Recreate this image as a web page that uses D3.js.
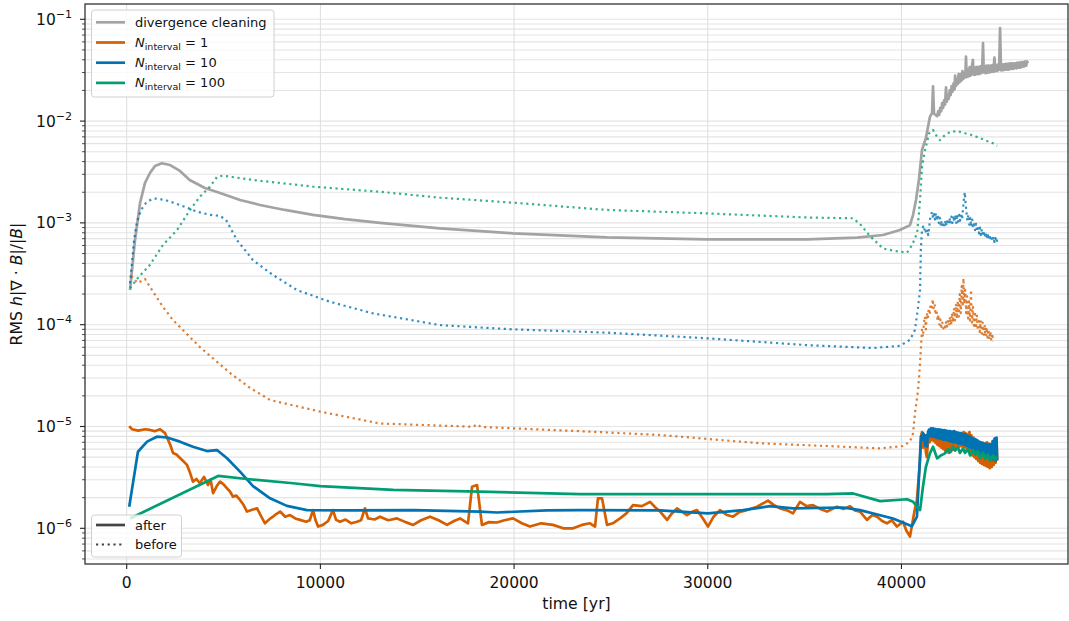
<!DOCTYPE html>
<html>
<head>
<meta charset="utf-8">
<script src="https://cdn.jsdelivr.net/npm/d3@7"></script>
<style>
  body { margin: 0; background: #fff; }
  svg { font-family: "DejaVu Sans", sans-serif; }
</style>
</head>
<body>
<svg id="chart" width="1069" height="621"></svg>
<script>
// [time in yr, RMS h|div B|/|B|]
const cleaning = [
  [170,2.19e-4],[430,6.8e-4],[690,1.57e-3],[945,2.47e-3],[1200,3.09e-3],[1460,3.62e-3],[1810,3.85e-3],
  [2240,3.7e-3],[2750,3.24e-3],[3250,2.64e-3],[4040,2.2e-3],[4820,1.97e-3],[5850,1.68e-3],[6880,1.5e-3],
  [8170,1.34e-3],[9620,1.2e-3],[11270,1.09e-3],[13080,1.0e-3],[16170,8.85e-4],[19940,7.9e-4],[24800,7.2e-4],
  [29960,6.9e-4],[35120,6.9e-4],[37700,7.16e-4],[39050,7.6e-4],[39920,8.5e-4],[40440,9.5e-4],[40600,1.2e-3],
  [40750,1.68e-3],[40900,2.64e-3],[41060,5.2e-3],[41260,6.8e-3],[41470,1.1e-2],[41580,1.2e-2],[41630,2.2e-2],
  [41680,1.18e-2],[41840,1.12e-2],[41900,1.25e-2],[41950,1.15e-2],[42000,1.35e-2],[42050,1.25e-2],[42100,1.5e-2],
  [42150,1.35e-2],[42200,1.6e-2],[42250,1.45e-2],[42300,2.15e-2],[42340,1.55e-2],[42390,1.8e-2],[42440,1.65e-2],
  [42490,2.0e-2],[42540,1.8e-2],[42590,2.2e-2],[42640,1.95e-2],[42690,2.35e-2],[42740,2.05e-2],[42770,2.8e-2],
  [42800,2.2e-2],[42850,2.6e-2],[42900,2.3e-2],[42950,2.9e-2],[43000,2.4e-2],[43050,2.9e-2],[43100,2.5e-2],
  [43150,3.1e-2],[43200,2.6e-2],[43250,3.0e-2],[43300,2.7e-2],[43330,4.3e-2],[43370,2.7e-2],[43420,3.2e-2],
  [43470,2.75e-2],[43520,3.4e-2],[43570,2.8e-2],[43620,3.3e-2],[43690,4.0e-2],[43720,2.85e-2],[43770,3.35e-2],
  [43820,2.85e-2],[43870,3.4e-2],[43920,2.9e-2],[43970,3.4e-2],[44020,2.9e-2],[44070,3.45e-2],[44120,2.95e-2],
  [44170,3.4e-2],[44210,5.85e-2],[44250,3.0e-2],[44300,3.45e-2],[44350,2.95e-2],[44400,3.5e-2],[44450,3.0e-2],
  [44500,3.5e-2],[44550,3.0e-2],[44600,3.5e-2],[44650,3.05e-2],[44700,3.55e-2],[44750,3.05e-2],[44800,4.2e-2],
  [44850,3.1e-2],[44900,3.55e-2],[44950,3.1e-2],[45000,3.6e-2],[45040,3.2e-2],[45090,8.2e-2],[45140,3.15e-2],
  [45190,3.6e-2],[45240,3.15e-2],[45290,3.6e-2],[45340,3.2e-2],[45390,3.65e-2],[45440,3.2e-2],[45490,3.65e-2],
  [45540,3.2e-2],[45590,3.7e-2],[45640,3.25e-2],[45690,3.7e-2],[45740,3.25e-2],[45790,3.7e-2],[45840,3.3e-2],
  [45890,3.7e-2],[45940,3.3e-2],[45990,3.75e-2],[46040,3.35e-2],[46090,3.75e-2],[46140,3.35e-2],[46190,3.8e-2],
  [46240,3.4e-2],[46290,3.8e-2],[46340,3.45e-2],[46390,3.85e-2],[46440,3.5e-2],[46490,3.85e-2],[46530,3.7e-2]
];

const n1After = [
  [130,1.01e-5],[270,9.4e-6],[600,9.1e-6],[945,9.4e-6],[1200,9.25e-6],[1450,9.0e-6],[1720,9.4e-6],[1980,8.6e-6],
  [2130,7.4e-6],[2250,6.6e-6],[2390,5.5e-6],[2570,5.3e-6],[2750,4.9e-6],[2900,4.6e-6],[3110,4.2e-6],[3250,3.6e-6],
  [3420,2.87e-6],[3600,3.05e-6],[3780,2.77e-6],[3990,3.2e-6],[4200,2.66e-6],[4330,3.0e-6],[4460,2.21e-6],
  [4650,2.6e-6],[4820,2.87e-6],[5000,2.7e-6],[5180,2.47e-6],[5330,2.3e-6],[5490,2.04e-6],[5650,2.1e-6],[5850,1.9e-6],
  [6030,1.7e-6],[6210,1.46e-6],[6480,1.52e-6],[6730,1.57e-6],[6950,1.3e-6],[7140,1.12e-6],[7350,1.22e-6],[7550,1.3e-6],
  [7720,1.38e-6],[7920,1.46e-6],[8180,1.3e-6],[8430,1.35e-6],[8700,1.25e-6],[8950,1.21e-6],[9260,1.16e-6],[9450,1.2e-6],
  [9620,1.51e-6],[9750,1.2e-6],[9880,1.04e-6],[10130,1.08e-6],[10400,1.18e-6],[10650,1.51e-6],[10810,1.21e-6],
  [11010,1.16e-6],[11300,1.22e-6],[11600,1.12e-6],[11890,1.16e-6],[12100,1.2e-6],[12300,1.57e-6],[12460,1.25e-6],
  [12800,1.22e-6],[13080,1.3e-6],[13500,1.2e-6],[13960,1.25e-6],[14400,1.15e-6],[14790,1.08e-6],[15200,1.2e-6],
  [15660,1.3e-6],[16100,1.2e-6],[16540,1.08e-6],[16900,1.18e-6],[17210,1.25e-6],[17620,1.12e-6],[17830,2.56e-6],
  [18090,2.66e-6],[18340,1.08e-6],[18700,1.15e-6],[19120,1.14e-6],[19500,1.2e-6],[19950,1.25e-6],[20400,1.12e-6],
  [20820,1.04e-6],[21400,1.12e-6],[22010,1.08e-6],[22530,1.0e-6],[23050,1.0e-6],[23500,1.08e-6],[23920,1.12e-6],
  [24180,1.04e-6],[24330,1.97e-6],[24540,1.97e-6],[24800,1.08e-6],[25100,1.12e-6],[25470,1.25e-6],[25800,1.4e-6],
  [26140,1.69e-6],[26600,1.65e-6],[27020,1.82e-6],[27300,1.6e-6],[27540,1.46e-6],[27900,1.21e-6],[28150,1.4e-6],
  [28410,1.57e-6],[28930,1.35e-6],[29200,1.45e-6],[29440,1.51e-6],[29750,1.25e-6],[30010,1.04e-6],[30300,1.3e-6],
  [30630,1.51e-6],[31000,1.35e-6],[31300,1.3e-6],[31650,1.45e-6],[32020,1.51e-6],[32540,1.63e-6],[33110,1.87e-6],
  [33400,1.7e-6],[33730,1.57e-6],[34100,1.5e-6],[34400,1.4e-6],[34760,1.82e-6],[35100,1.65e-6],[35430,1.69e-6],
  [35800,1.55e-6],[36160,1.46e-6],[36670,1.63e-6],[37000,1.55e-6],[37340,1.65e-6],[37600,1.5e-6],[37860,1.46e-6],
  [38220,1.21e-6],[38500,1.35e-6],[38740,1.3e-6],[39000,1.18e-6],[39250,1.12e-6],[39500,1.2e-6],[39770,1.04e-6],
  [40080,1.16e-6],[40250,9.5e-7],[40440,8.3e-7],[40700,1.57e-6],[40800,1.9e-6],[40960,4.7e-6],[41010,8.0e-6],
  [41060,8.8e-6],[41110,6.2e-6],[41160,8.4e-6],[41210,7.5e-6],[41260,5.6e-6],[41310,5.0e-6],[41360,6.8e-6],
  [41410,8.6e-6],[41460,7.0e-6],[41510,9.0e-6],[41560,7.4e-6],[41610,9.0e-6],[41660,7.2e-6],[41710,8.8e-6],
  [41760,6.9e-6],[41810,8.6e-6],[41860,6.6e-6],[41910,8.4e-6],[41960,6.4e-6],[42010,8.0e-6],[42060,6.2e-6],
  [42110,7.8e-6],[42160,6.0e-6],[42210,7.6e-6],[42260,5.8e-6],[42310,7.4e-6],[42360,5.6e-6],[42410,7.2e-6],
  [42460,5.5e-6],[42510,7.4e-6],[42560,5.7e-6],[42610,7.6e-6],[42660,5.9e-6],[42710,7.8e-6],[42760,6.0e-6],
  [42810,8.0e-6],[42860,6.2e-6],[42910,8.2e-6],[42960,6.3e-6],[43010,8.4e-6],[43060,6.4e-6],[43110,8.6e-6],
  [43160,6.4e-6],[43210,8.8e-6],[43260,6.3e-6],[43310,8.6e-6],[43360,6.0e-6],[43410,8.4e-6],[43460,5.7e-6],
  [43510,8.8e-6],[43560,5.4e-6],[43610,8.2e-6],[43660,5.2e-6],[43710,7.8e-6],[43760,5.0e-6],[43810,7.4e-6],
  [43860,4.8e-6],[43910,7.2e-6],[43960,4.6e-6],[44010,7.0e-6],[44060,4.4e-6],[44110,6.8e-6],[44160,4.3e-6],
  [44210,6.6e-6],[44260,4.2e-6],[44310,6.6e-6],[44360,4.1e-6],[44410,7.0e-6],[44460,4.0e-6],[44510,6.8e-6],
  [44560,3.9e-6],[44610,6.6e-6],[44660,4.0e-6],[44710,7.2e-6],[44760,4.2e-6],[44810,7.6e-6],[44860,4.4e-6],
  [44910,7.0e-6],[44940,4.6e-6]
];

const n1Before = [
  [220,3.0e-4],[580,2.57e-4],[945,2.81e-4],[1360,2.11e-4],[1870,1.5e-4],[2390,1.11e-4],[3790,6.0e-5],[5330,3.36e-5],
  [6370,2.39e-5],[7400,1.82e-5],[9990,1.4e-5],[13080,1.07e-5],[17880,9.95e-6],[18090,1.05e-5],[18290,9.9e-6],
  [23400,9.0e-6],[27540,8.25e-6],[32700,6.84e-6],[36160,6.43e-6],[38900,6.1e-6],[40080,6.43e-6],[40440,7.1e-6],
  [40600,8.6e-6],[40700,1.36e-5],[40860,2.29e-5],[40960,4.2e-5],[41010,6.1e-5],[41060,8.9e-5],[41110,7.6e-5],
  [41160,1.05e-4],[41210,1.2e-4],[41260,9.0e-5],[41310,1.3e-4],[41360,1.15e-4],[41410,1.45e-4],[41460,1.25e-4],
  [41510,1.6e-4],[41560,1.4e-4],[41610,1.78e-4],[41660,1.45e-4],[41710,1.6e-4],[41760,1.25e-4],[41810,1.4e-4],
  [41860,1.1e-4],[41910,1.25e-4],[41960,1.0e-4],[42010,1.12e-4],[42060,9.5e-5],[42110,1.05e-4],[42160,9.2e-5],
  [42210,1.0e-4],[42260,9.4e-5],[42310,1.08e-4],[42360,9.6e-5],[42410,1.15e-4],[42460,9.8e-5],[42510,1.2e-4],
  [42560,1.0e-4],[42610,1.3e-4],[42660,1.05e-4],[42710,1.45e-4],[42760,1.1e-4],[42810,1.6e-4],[42860,1.15e-4],
  [42910,1.7e-4],[42960,1.2e-4],[43010,2.0e-4],[43060,1.3e-4],[43110,2.4e-4],[43160,1.5e-4],[43200,2.85e-4],
  [43240,1.6e-4],[43290,2.2e-4],[43340,1.3e-4],[43390,1.9e-4],[43440,1.15e-4],[43490,1.7e-4],[43540,1.1e-4],
  [43590,2.2e-4],[43640,1.05e-4],[43690,1.5e-4],[43740,9.8e-5],[43790,1.35e-4],[43840,9.2e-5],[43890,1.25e-4],
  [43940,8.8e-5],[43990,1.15e-4],[44040,8.5e-5],[44090,1.1e-4],[44140,8.2e-5],[44190,1.05e-4],[44240,8.0e-5],
  [44290,1.0e-4],[44340,7.7e-5],[44390,9.5e-5],[44440,7.5e-5],[44490,9.0e-5],[44540,7.2e-5],[44590,8.6e-5],
  [44640,7.0e-5],[44690,8.2e-5],[44730,6.8e-5]
];

const n10After = [
  [130,1.63e-6],[580,5.65e-6],[1050,7.1e-6],[1560,7.94e-6],[2080,7.8e-6],[2750,7.1e-6],[3420,6.33e-6],[4140,5.74e-6],
  [4660,5.87e-6],[5180,4.87e-6],[5850,3.6e-6],[6520,2.6e-6],[7400,1.97e-6],[8270,1.66e-6],[9310,1.51e-6],
  [11370,1.5e-6],[14790,1.51e-6],[18240,1.46e-6],[19120,1.43e-6],[21700,1.5e-6],[23400,1.51e-6],[27540,1.5e-6],
  [30010,1.4e-6],[31820,1.51e-6],[33210,1.65e-6],[34400,1.57e-6],[36980,1.6e-6],[37860,1.51e-6],[39560,1.25e-6],
  [40540,1.05e-6],[40800,1.3e-6],[40960,5.25e-6],[41010,8.0e-6],[41060,7.4e-6],[41110,8.6e-6],[41170,7.9e-6],
  [41220,6.5e-6],[41270,8.2e-6],[41320,6.33e-6],[41370,8.8e-6],[41420,9.3e-6],[41470,8.0e-6],[41520,9.6e-6],
  [41570,8.0e-6],[41620,9.6e-6],[41670,7.9e-6],[41720,9.5e-6],[41770,7.8e-6],[41820,9.4e-6],[41870,7.7e-6],
  [41920,9.4e-6],[41970,7.6e-6],[42020,9.3e-6],[42070,7.5e-6],[42120,9.2e-6],[42170,7.4e-6],[42220,9.2e-6],
  [42270,7.4e-6],[42320,9.1e-6],[42370,7.3e-6],[42420,9.0e-6],[42470,7.2e-6],[42520,9.0e-6],[42570,7.1e-6],
  [42620,8.9e-6],[42670,7.0e-6],[42720,9.0e-6],[42770,7.0e-6],[42820,8.8e-6],[42870,6.9e-6],[42920,8.7e-6],
  [42970,6.8e-6],[43020,8.6e-6],[43070,6.8e-6],[43120,8.5e-6],[43170,6.7e-6],[43220,8.4e-6],[43270,6.6e-6],
  [43320,8.3e-6],[43370,6.5e-6],[43420,8.1e-6],[43470,6.3e-6],[43520,8.0e-6],[43570,6.2e-6],[43620,7.8e-6],
  [43670,6.0e-6],[43720,7.6e-6],[43770,5.8e-6],[43820,7.5e-6],[43870,5.7e-6],[43920,7.3e-6],[43970,5.5e-6],
  [44020,7.1e-6],[44070,5.4e-6],[44120,7.0e-6],[44170,5.3e-6],[44220,6.9e-6],[44270,5.2e-6],[44320,6.8e-6],
  [44370,5.1e-6],[44420,6.7e-6],[44470,5.0e-6],[44520,6.6e-6],[44570,4.9e-6],[44620,6.7e-6],[44670,4.8e-6],
  [44720,7.2e-6],[44770,4.7e-6],[44820,7.6e-6],[44870,4.6e-6],[44910,7.8e-6],[44940,4.7e-6]
];

const n10Before = [
  [170,2.55e-4],[275,4.1e-4],[380,6.8e-4],[530,1.02e-3],[740,1.34e-3],[1000,1.57e-3],[1310,1.72e-3],[1510,1.73e-3],
  [1980,1.68e-3],[2750,1.5e-3],[3630,1.29e-3],[4300,1.2e-3],[4820,1.17e-3],[5130,1.07e-3],[5690,6.8e-4],[6520,4.3e-4],
  [7550,3.08e-4],[8790,2.19e-4],[10490,1.68e-4],[12720,1.29e-4],[16170,9.9e-5],[19940,9.0e-5],[24800,8.35e-5],
  [29960,7.35e-5],[35120,6.3e-5],[38540,5.9e-5],[39930,6.2e-5],[40440,7.1e-5],[40700,8.9e-5],[40860,1.5e-4],
  [40960,2.2e-4],[41000,5.4e-4],[41060,8.5e-4],[41120,9.2e-4],[41170,8.4e-4],[41220,9.0e-4],[41280,7.8e-4],
  [41330,8.6e-4],[41380,7.6e-4],[41430,9.0e-4],[41480,1.1e-3],[41530,1.2e-3],[41580,1.28e-3],[41630,1.1e-3],
  [41680,1.22e-3],[41730,1.08e-3],[41780,1.25e-3],[41830,1.05e-3],[41880,1.2e-3],[41930,1.0e-3],[41980,1.12e-3],
  [42030,9.3e-4],[42080,1.05e-3],[42130,9.0e-4],[42180,1.02e-3],[42230,9.2e-4],[42280,1.06e-3],[42330,9.4e-4],
  [42380,1.1e-3],[42430,9.6e-4],[42480,1.12e-3],[42530,9.8e-4],[42580,1.15e-3],[42630,1.0e-3],[42680,1.18e-3],
  [42730,1.02e-3],[42780,1.2e-3],[42830,1.0e-3],[42880,1.22e-3],[42930,1.03e-3],[42980,1.2e-3],[43030,1.05e-3],
  [43080,1.25e-3],[43130,1.08e-3],[43180,1.4e-3],[43230,1.75e-3],[43270,2.0e-3],[43310,1.55e-3],[43350,1.3e-3],
  [43400,1.05e-3],[43450,1.2e-3],[43500,9.6e-4],[43550,1.12e-3],[43600,9.2e-4],[43650,1.08e-3],[43700,8.8e-4],
  [43750,1.02e-3],[43800,8.5e-4],[43850,9.8e-4],[43900,8.2e-4],[43950,9.4e-4],[44000,7.9e-4],[44050,9.0e-4],
  [44100,7.6e-4],[44150,8.7e-4],[44200,7.4e-4],[44250,8.4e-4],[44300,7.2e-4],[44350,8.1e-4],[44400,7.0e-4],
  [44450,7.9e-4],[44500,6.9e-4],[44550,7.7e-4],[44600,6.7e-4],[44650,7.5e-4],[44700,6.6e-4],[44750,7.3e-4],
  [44800,6.5e-4],[44850,7.1e-4],[44900,6.4e-4],[44940,6.9e-4]
];

const n100After = [
  [170,1.25e-6],[4720,3.27e-6],[6210,3.05e-6],[8590,2.77e-6],[9990,2.6e-6],[13760,2.38e-6],[18240,2.29e-6],
  [23400,2.17e-6],[36160,2.17e-6],[37500,2.2e-6],[38900,1.85e-6],[40290,1.93e-6],[40600,1.82e-6],[40960,1.51e-6],
  [41110,2.56e-6],[41260,4.0e-6],[41470,5.45e-6],[41630,6.33e-6],[41840,4.87e-6],[42040,5.2e-6],[42250,5.45e-6],
  [42400,6.0e-6],[42510,5.6e-6],[42660,6.3e-6],[42770,5.8e-6],[42920,6.2e-6],[43020,5.5e-6],[43180,6.1e-6],
  [43280,5.5e-6],[43440,6.0e-6],[43540,5.2e-6],[43690,5.9e-6],[43800,5.3e-6],[43950,5.7e-6],[44060,4.9e-6],
  [44210,5.5e-6],[44320,4.8e-6],[44470,5.3e-6],[44570,4.6e-6],[44730,5.2e-6],[44830,4.7e-6],[44940,5.1e-6]
];

const n100Before = [
  [170,2.28e-4],[580,2.88e-4],[1200,3.87e-4],[1870,6.07e-4],[2600,8.5e-4],[3270,1.34e-3],[3780,1.81e-3],
  [4300,2.27e-3],[4660,2.82e-3],[4970,2.91e-3],[6520,2.64e-3],[9620,2.27e-3],[13080,2.02e-3],[16170,1.77e-3],
  [19940,1.58e-3],[24800,1.34e-3],[29960,1.24e-3],[35120,1.13e-3],[37500,1.11e-3],[37860,9.75e-4],[38380,7.4e-4],
  [39050,5.6e-4],[39670,5.3e-4],[40290,5.1e-4],[40550,6.07e-4],[40810,7.96e-4],[40960,1.68e-3],[41060,3.54e-3],
  [41220,5.2e-3],[41430,7.6e-3],[41630,8.2e-3],[41840,7.0e-3],[41990,6.5e-3],[42250,7.3e-3],[42510,7.8e-3],
  [42870,8.0e-3],[43280,7.6e-3],[43540,7.4e-3],[43800,7.1e-3],[44060,6.8e-3],[44320,6.5e-3],[44570,6.2e-3],
  [44780,6.0e-3],[44940,5.7e-3]
];

const xTicks = [0, 10000, 20000, 30000, 40000];
const yTickExps = [-6, -5, -4, -3, -2, -1];

const grey = "#a3a3a3", orange = "#d55e00", blue = "#0173b2", green = "#029e73";

const svg = d3.select("#chart");
const mLeft = 85, mRight = 1068, mTop = 4, mBottom = 564;

const x = d3.scaleLinear().domain([-2153, 48598]).range([mLeft, mRight]);
const y = d3.scaleLog().domain([4.46e-7, 0.1413]).range([mBottom, mTop]);

// grid
const minors = [];
for (let e = -7; e <= -1; e++) for (let m = 1; m <= 9; m++) {
  const v = m * Math.pow(10, e);
  if (v >= y.domain()[0] && v <= y.domain()[1]) minors.push({v: v, major: m === 1});
}
const grid = svg.append("g");
grid.selectAll("line.hy").data(minors).join("line")
  .attr("x1", mLeft).attr("x2", mRight)
  .attr("y1", d => y(d.v)).attr("y2", d => y(d.v))
  .attr("stroke", "#e4e4e4").attr("stroke-width", 1.1);
grid.selectAll("line.vx").data(xTicks).join("line")
  .attr("x1", d => x(d)).attr("x2", d => x(d))
  .attr("y1", mTop).attr("y2", mBottom)
  .attr("stroke", "#dedede").attr("stroke-width", 1);

// lines
const line = d3.line().x(d => x(d[0])).y(d => y(d[1]));
const series = [
  {data: cleaning, color: grey, dotted: false},
  {data: n1After, color: orange, dotted: false},
  {data: n1Before, color: orange, dotted: true},
  {data: n10After, color: blue, dotted: false},
  {data: n10Before, color: blue, dotted: true},
  {data: n100After, color: green, dotted: false},
  {data: n100Before, color: green, dotted: true}
];
const plot = svg.append("g");
series.forEach(s => {
  plot.append("path")
    .attr("d", line(s.data))
    .attr("fill", "none")
    .attr("stroke", s.color)
    .attr("stroke-width", s.dotted ? 2.2 : 2.7)
    .attr("stroke-opacity", s.dotted ? 0.8 : 1)
    .attr("stroke-dasharray", s.dotted ? "2.2,3.6" : null)
    .attr("stroke-linejoin", "round");
});

// axes ticks
const axes = svg.append("g");
axes.selectAll("line.mt").data(minors).join("line")
  .attr("x1", d => mLeft - (d.major ? 5 : 3)).attr("x2", mLeft)
  .attr("y1", d => y(d.v)).attr("y2", d => y(d.v))
  .attr("stroke", "#222").attr("stroke-width", d => d.major ? 1.1 : 0.8);
axes.selectAll("line.xt").data(xTicks).join("line")
  .attr("x1", d => x(d)).attr("x2", d => x(d))
  .attr("y1", mBottom).attr("y2", mBottom + 5)
  .attr("stroke", "#222").attr("stroke-width", 1.1);
axes.selectAll("text.xl").data(xTicks).join("text")
  .attr("x", d => x(d)).attr("y", 588)
  .attr("text-anchor", "middle").attr("font-size", 15.5).attr("fill", "#111")
  .text(d => d);
const yl = axes.selectAll("text.yl").data(yTickExps).join("text")
  .attr("x", 72).attr("y", d => y(Math.pow(10, d)) + 5.5)
  .attr("text-anchor", "end").attr("font-size", 15.5).attr("fill", "#111");
yl.append("tspan").text("10");
yl.append("tspan").attr("dy", -7).attr("font-size", 11).text(d => "\u2212" + (-d));

svg.append("rect").attr("x", mLeft).attr("y", mTop).attr("width", mRight - mLeft).attr("height", mBottom - mTop)
  .attr("fill", "none").attr("stroke", "#222").attr("stroke-width", 1.2);

// axis labels
svg.append("text").attr("x", (mLeft + mRight) / 2).attr("y", 609).attr("text-anchor", "middle")
  .attr("font-size", 15.7).attr("fill", "#111").text("time [yr]");
const ylab = svg.append("text").attr("transform", `translate(22,${(mTop + mBottom) / 2}) rotate(-90)`)
  .attr("text-anchor", "middle").attr("font-size", 15.7).attr("fill", "#111");
ylab.append("tspan").text("RMS ");
ylab.append("tspan").attr("font-style", "italic").text("h");
ylab.append("tspan").text("|\u2207 \u00b7 ");
ylab.append("tspan").attr("font-style", "italic").text("B");
ylab.append("tspan").text("|/|");
ylab.append("tspan").attr("font-style", "italic").text("B");
ylab.append("tspan").text("|");

// legends
const legendLabels = ["divergence cleaning", "1", "10", "100"];
const legendColors = [grey, orange, blue, green];
const lg = svg.append("g");
lg.append("rect").attr("x", 91.5).attr("y", 10).attr("width", 182.5).attr("height", 87).attr("rx", 3)
  .attr("fill", "#fff").attr("fill-opacity", 0.8).attr("stroke", "#d0d0d0");
legendLabels.forEach((lab, i) => {
  const cy = 22.3 + i * 20.2;
  lg.append("line").attr("x1", 96).attr("x2", 125).attr("y1", cy).attr("y2", cy)
    .attr("stroke", legendColors[i]).attr("stroke-width", 2.7);
  const t = lg.append("text").attr("x", 135).attr("y", cy + 4.5).attr("font-size", 13).attr("fill", "#111");
  if (i === 0) { t.text(lab); return; }
  t.append("tspan").attr("font-style", "italic").text("N");
  t.append("tspan").attr("dy", 3).attr("font-size", 9.5).text("interval");
  t.append("tspan").attr("dy", -3).text(" = " + lab);
});

const styleLabels = ["after", "before"];
const lg2 = svg.append("g");
lg2.append("rect").attr("x", 91.5).attr("y", 515).attr("width", 90).attr("height", 42).attr("rx", 3)
  .attr("fill", "#fff").attr("fill-opacity", 0.8).attr("stroke", "#d0d0d0");
styleLabels.forEach((lab, i) => {
  const cy = 525 + i * 19.5;
  lg2.append("line").attr("x1", 96).attr("x2", 125).attr("y1", cy).attr("y2", cy)
    .attr("stroke", "#444").attr("stroke-width", i ? 2.2 : 2.7)
    .attr("stroke-dasharray", i ? "2.2,3.6" : null);
  lg2.append("text").attr("x", 135).attr("y", cy + 4.5).attr("font-size", 13).attr("fill", "#111").text(lab);
});
console.log("chart drawn");
</script>
</body>
</html>
